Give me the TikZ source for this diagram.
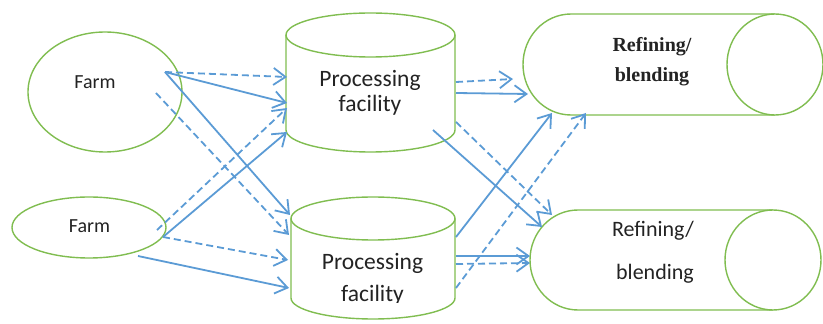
\documentclass[tikz,border=0pt]{standalone}
\usepackage{fontspec}
\setmainfont{Carlito}
\newfontfamily\refserif{Liberation Serif}
\usetikzlibrary{arrows.meta,shapes.geometric}
\definecolor{edgegreen}{RGB}{128,189,80}
\definecolor{flowblue}{RGB}{91,155,213}
\definecolor{labelgrey}{RGB}{35,35,35}
\begin{document}
\begin{tikzpicture}[x=1pt,y=1pt,
  outline/.style={draw=edgegreen,line width=1.4pt,fill=white},
  flow/.style={draw=flowblue,line width=1.8pt,
    -{Straight Barb[length=12pt,width=17pt,line width=1.8pt]}},
  flowdash/.style={flow,dash pattern=on 7pt off 4pt},
  lbl/.style={inner sep=0pt,anchor=base,text=labelgrey,
    font=\fontsize{20}{24}\selectfont},
  biglbl/.style={lbl,font=\fontsize{23.5}{28}\selectfont},
  reflbl/.style={lbl,font=\fontsize{22}{26}\selectfont},
  serlbl/.style={lbl,font=\refserif\bfseries\fontsize{20}{24}\selectfont}]
\useasboundingbox (0,0) rectangle (823,324);

% farms
\node[outline,ellipse,minimum width=154pt,minimum height=120pt,inner sep=0pt] (farmA) at (105,232) {};
\node[outline,ellipse,minimum width=154pt,minimum height=61pt,inner sep=0pt] (farmB) at (89,96.5) {};
\node[lbl] (farmAtxt) at (95,235) {Farm};
\node[lbl] (farmBtxt) at (89.5,91) {Farm};

% processing facilities (vertical cylinders)
\path[outline] (286,289) -- (286,194)
  arc[start angle=180,end angle=360,x radius=84.5,y radius=22] -- (455,289);
\path[outline] (370.5,289) ellipse[x radius=84.5,y radius=22];
\path[outline] (291,105.5) -- (291,26)
  arc[start angle=180,end angle=360,x radius=82,y radius=21] -- (455,105.5);
\path[outline] (373,105.5) ellipse[x radius=82,y radius=21.5];
\node[biglbl] (procAa) at (370,237) {Processing};
\node[biglbl] (procAb) at (370,212) {facility};
\node[biglbl] (procBa) at (372.5,54) {Processing};
\begin{scope}
  \clip (291,21.5) rectangle (455,60);
  \node[biglbl] (procBb) at (372.5,22) {facility};
\end{scope}

% refining / blending (horizontal cylinders)
\path[outline] (775,310) -- (571,310)
  arc[start angle=90,end angle=270,x radius=48,y radius=50.5] -- (775,209);
\path[outline] (775,259.5) ellipse[x radius=48,y radius=50.5];
\path[outline] (773,114) -- (578,114)
  arc[start angle=90,end angle=270,x radius=48,y radius=50] -- (773,14);
\path[outline] (773,64) ellipse[x radius=48,y radius=50];
\node[serlbl] (refAa) at (652,272) {Refining/};
\node[serlbl] (refAb) at (652,242) {blending};
\node[reflbl] (refBa) at (653,87) {Refining/};
\node[reflbl] (refBb) at (655,44) {blending};

% connector ports
\coordinate (aOut)  at (165,252);
\coordinate (aOut2) at (156,231);
\coordinate (bOut1) at (157,94);
\coordinate (bOut2) at (163,87);
\coordinate (bOut3) at (138,68);
\coordinate (pAin1) at (287,247);
\coordinate (pAin2) at (287,221);
\coordinate (pAin3) at (287,216);
\coordinate (pAin4) at (287,192);
\coordinate (pBin1) at (290,109);
\coordinate (pBin2) at (289,89);
\coordinate (pBin3) at (288,64);
\coordinate (pBin4) at (289,36);
\coordinate (pAout1) at (456,242);
\coordinate (pAout2) at (456,231);
\coordinate (pAout3) at (433,194);
\coordinate (pAout4) at (456,202);
\coordinate (pBout1) at (456,87);
\coordinate (pBout2) at (456,36);
\coordinate (pBout3) at (456,68);
\coordinate (pBout4) at (456,60);
\coordinate (rAin1) at (513,245);
\coordinate (rAin2) at (528,230);
\coordinate (rAin3) at (552,211);
\coordinate (rAin4) at (586,211);
\coordinate (rBin1) at (542,97);
\coordinate (rBin2) at (552,109);
\coordinate (rBin3) at (530,68);
\coordinate (rBin4) at (530,61);

% farm -> processing
\draw[flowdash] (aOut) -- (pAin1);
\draw[flow] (aOut) -- (pAin2);
\draw[flow] (aOut) -- (pBin1);
\draw[flowdash] (aOut2) -- (pBin2);
\draw[flowdash] (bOut1) -- (pAin3);
\draw[flow] (bOut2) -- (pAin4);
\draw[flowdash] (bOut2) -- (pBin3);
\draw[flow] (bOut3) -- (pBin4);

% processing -> refining
\draw[flowdash] (pAout1) -- (rAin1);
\draw[flow] (pAout2) -- (rAin2);
\draw[flow] (pAout3) -- (rBin1);
\draw[flowdash] (pAout4) -- (rBin2);
\draw[flow] (pBout1) -- (rAin3);
\draw[flowdash] (pBout2) -- (rAin4);
\draw[flow] (pBout3) -- (rBin3);
\draw[flowdash] (pBout4) -- (rBin4);
\end{tikzpicture}
\end{document}
